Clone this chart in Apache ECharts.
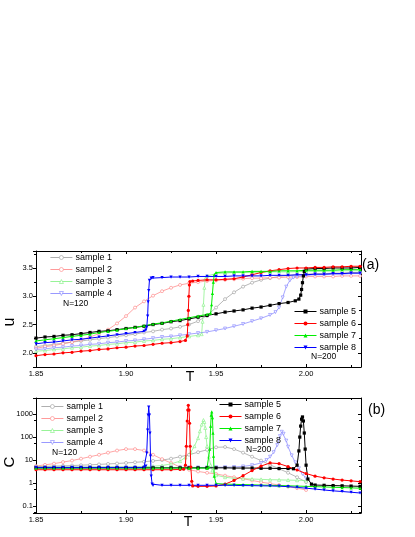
<!DOCTYPE html>
<html>
<head>
<meta charset="utf-8">
<title>u and C vs T</title>
<style>
    html, body { margin: 0; padding: 0; background: #fff; }
    #main { width: 415px; height: 537px; }
</style>
</head>
<body>
<div id="main"></div>
<script src="https://cdn.jsdelivr.net/npm/echarts@6/dist/echarts.min.js"></script>
<script>
    // series names (the typo "sampel 2" is in the original)
    var sampleNames = ['sample 1', 'sampel 2', 'sample 3', 'sample 4', 'sample 5', 'sample 6', 'sample 7', 'sample 8'];

    // panel (a): u vs T, pairs [T, u]
    var uS1 = [[1.85,2.11],[1.855,2.13],[1.86,2.15],[1.865,2.17],[1.87,2.19],[1.875,2.21],[1.88,2.23],[1.885,2.25],[1.89,2.27],[1.895,2.29],[1.90,2.31],[1.905,2.33],[1.91,2.36],[1.915,2.38],[1.92,2.41],[1.925,2.43],[1.93,2.46],[1.935,2.50],[1.94,2.56],[1.945,2.66],[1.95,2.80],[1.955,2.95],[1.96,3.07],[1.965,3.17],[1.97,3.24],[1.975,3.29],[1.98,3.32],[1.985,3.35],[1.99,3.37],[1.995,3.38],[2.00,3.39],[2.005,3.40],[2.01,3.40],[2.015,3.41],[2.02,3.41],[2.025,3.42],[2.03,3.42]];
    var uS2 = [[1.85,2.08],[1.855,2.11],[1.86,2.13],[1.865,2.16],[1.87,2.19],[1.875,2.23],[1.88,2.28],[1.885,2.34],[1.89,2.41],[1.895,2.52],[1.90,2.65],[1.905,2.80],[1.91,2.91],[1.915,3.01],[1.92,3.09],[1.925,3.15],[1.93,3.20],[1.935,3.23],[1.94,3.25],[1.945,3.27],[1.95,3.28],[1.955,3.29],[1.96,3.30],[1.965,3.31],[1.97,3.32],[1.975,3.32],[1.98,3.33],[1.985,3.33],[1.99,3.34],[1.995,3.34],[2.00,3.35],[2.005,3.35],[2.01,3.35],[2.015,3.35],[2.02,3.36],[2.025,3.36],[2.03,3.36]];
    var uS3 = [[1.85,2.03],[1.855,2.04],[1.86,2.06],[1.865,2.07],[1.87,2.09],[1.875,2.10],[1.88,2.12],[1.885,2.13],[1.89,2.15],[1.895,2.16],[1.90,2.18],[1.905,2.19],[1.91,2.21],[1.915,2.22],[1.92,2.24],[1.925,2.25],[1.93,2.27],[1.935,2.29],[1.94,2.31],[1.942,2.33],[1.9425,2.55],[1.943,2.85],[1.9435,3.15],[1.944,3.31],[1.945,3.36],[1.95,3.40],[1.955,3.41],[1.96,3.42],[1.97,3.42],[1.98,3.43],[1.99,3.43],[2.00,3.44],[2.01,3.44],[2.02,3.45],[2.03,3.45]];
    var uS4 = [[1.85,2.06],[1.855,2.07],[1.86,2.09],[1.865,2.10],[1.87,2.12],[1.875,2.13],[1.88,2.15],[1.885,2.16],[1.89,2.18],[1.895,2.19],[1.90,2.21],[1.905,2.22],[1.91,2.24],[1.915,2.26],[1.92,2.28],[1.925,2.29],[1.93,2.31],[1.935,2.33],[1.94,2.35],[1.945,2.37],[1.95,2.40],[1.955,2.43],[1.96,2.47],[1.965,2.51],[1.97,2.56],[1.975,2.61],[1.98,2.67],[1.983,2.72],[1.985,2.80],[1.987,2.98],[1.989,3.17],[1.991,3.28],[1.993,3.33],[1.995,3.35],[2.00,3.37],[2.005,3.38],[2.01,3.38],[2.015,3.39],[2.02,3.39],[2.025,3.40],[2.03,3.40]];
    var uS5 = [[1.85,2.26],[1.855,2.28],[1.86,2.29],[1.865,2.31],[1.87,2.32],[1.875,2.34],[1.88,2.36],[1.885,2.38],[1.89,2.39],[1.895,2.41],[1.90,2.43],[1.905,2.45],[1.91,2.47],[1.915,2.50],[1.92,2.52],[1.925,2.55],[1.93,2.57],[1.935,2.60],[1.94,2.63],[1.945,2.66],[1.95,2.69],[1.955,2.72],[1.96,2.74],[1.965,2.76],[1.97,2.79],[1.975,2.81],[1.98,2.84],[1.985,2.87],[1.99,2.89],[1.994,2.92],[1.996,2.95],[1.997,3.02],[1.9975,3.12],[1.998,3.24],[1.9985,3.36],[1.999,3.44],[2.00,3.48],[2.005,3.49],[2.01,3.49],[2.015,3.50],[2.02,3.50],[2.025,3.50],[2.03,3.51]];
    var uS6 = [[1.85,1.95],[1.855,1.97],[1.86,1.98],[1.865,2.00],[1.87,2.01],[1.875,2.03],[1.88,2.04],[1.885,2.06],[1.89,2.07],[1.895,2.09],[1.90,2.10],[1.905,2.12],[1.91,2.13],[1.915,2.15],[1.92,2.17],[1.925,2.18],[1.93,2.20],[1.933,2.22],[1.934,2.30],[1.9343,2.5],[1.9346,2.75],[1.9349,3.0],[1.9352,3.2],[1.9355,3.26],[1.937,3.27],[1.94,3.28],[1.945,3.29],[1.95,3.29],[1.955,3.30],[1.96,3.31],[1.965,3.34],[1.97,3.38],[1.975,3.42],[1.98,3.45],[1.985,3.47],[1.99,3.49],[1.995,3.50],[2.00,3.50],[2.005,3.51],[2.01,3.51],[2.015,3.52],[2.02,3.52],[2.025,3.53],[2.03,3.53]];
    var uS7 = [[1.85,2.21],[1.855,2.23],[1.86,2.25],[1.865,2.27],[1.87,2.29],[1.875,2.31],[1.88,2.33],[1.885,2.36],[1.89,2.38],[1.895,2.40],[1.90,2.43],[1.905,2.45],[1.91,2.48],[1.915,2.51],[1.92,2.53],[1.925,2.56],[1.93,2.59],[1.935,2.62],[1.94,2.65],[1.945,2.68],[1.947,2.70],[1.9475,2.85],[1.948,3.05],[1.9485,3.25],[1.949,3.38],[1.95,3.42],[1.955,3.43],[1.96,3.43],[1.965,3.43],[1.97,3.44],[1.975,3.44],[1.98,3.44],[1.985,3.45],[1.99,3.45],[1.995,3.45],[2.00,3.46],[2.005,3.46],[2.01,3.46],[2.015,3.46],[2.02,3.47],[2.025,3.47],[2.03,3.47]];
    var uS8 = [[1.85,2.16],[1.855,2.18],[1.86,2.19],[1.865,2.21],[1.87,2.23],[1.875,2.24],[1.88,2.26],[1.885,2.28],[1.89,2.30],[1.895,2.32],[1.90,2.34],[1.905,2.36],[1.91,2.38],[1.911,2.40],[1.9115,2.45],[1.912,2.65],[1.9123,2.9],[1.9126,3.1],[1.913,3.28],[1.914,3.32],[1.915,3.33],[1.92,3.33],[1.925,3.34],[1.93,3.34],[1.935,3.34],[1.94,3.35],[1.945,3.35],[1.95,3.35],[1.955,3.35],[1.96,3.36],[1.965,3.36],[1.97,3.36],[1.975,3.36],[1.98,3.37],[1.985,3.37],[1.99,3.37],[1.995,3.38],[2.00,3.38],[2.005,3.39],[2.01,3.39],[2.015,3.40],[2.02,3.40],[2.025,3.41],[2.03,3.41]];

    // panel (b): C vs T, pairs [T, C]
    var cS1 = [[1.85,5.2],[1.855,5.3],[1.86,5.5],[1.865,5.6],[1.87,5.8],[1.875,6.0],[1.88,6.2],[1.885,6.5],[1.89,6.8],[1.895,7.1],[1.90,7.5],[1.905,8.0],[1.91,8.5],[1.915,9.2],[1.92,10],[1.925,11.5],[1.93,14],[1.935,17],[1.94,22],[1.945,28],[1.95,36],[1.955,37],[1.96,30],[1.965,21],[1.97,14],[1.975,9.5],[1.98,6.2],[1.985,4.2],[1.99,2.8],[1.995,1.8],[2.00,1.1]];
    var cS2 = [[1.85,5.5],[1.855,6.2],[1.86,7.0],[1.865,8.2],[1.87,9.5],[1.875,11.5],[1.88,14],[1.885,17],[1.89,21],[1.895,26],[1.90,30],[1.905,30],[1.91,26],[1.915,17],[1.92,11],[1.925,7.5],[1.93,5],[1.935,3.8],[1.94,3.2],[1.945,2.8],[1.95,2.5],[1.955,2.1],[1.96,1.8],[1.965,1.55],[1.97,1.3],[1.975,1.1],[1.98,0.95],[1.985,0.82],[1.99,0.7],[1.995,0.6],[2.00,0.5]];
    var cS3 = [[1.85,5.0],[1.855,5.0],[1.86,5.0],[1.865,5.0],[1.87,5.0],[1.875,5.0],[1.88,5.0],[1.885,5.0],[1.89,5.1],[1.895,5.1],[1.90,5.1],[1.905,5.1],[1.91,5.2],[1.915,5.4],[1.92,5.8],[1.925,6.8],[1.93,9],[1.933,13],[1.936,22],[1.938,40],[1.94,90],[1.941,180],[1.942,350],[1.943,550],[1.9435,450],[1.944,250],[1.9445,100],[1.945,40],[1.946,14],[1.947,6],[1.948,3.5],[1.95,2.2],[1.955,1.8],[1.96,1.6],[1.965,1.55],[1.97,1.5],[1.975,1.45],[1.98,1.4],[1.985,1.38],[1.99,1.35],[1.995,1.32],[2.00,1.3]];
    var cS4 = [[1.85,4.2],[1.855,4.2],[1.86,4.3],[1.865,4.3],[1.87,4.4],[1.875,4.4],[1.88,4.5],[1.885,4.5],[1.89,4.6],[1.895,4.6],[1.90,4.6],[1.905,4.6],[1.91,4.7],[1.915,4.7],[1.92,4.7],[1.925,4.7],[1.93,4.8],[1.935,4.8],[1.94,4.8],[1.945,4.8],[1.95,4.9],[1.955,4.9],[1.96,5.0],[1.965,5.3],[1.97,6.0],[1.975,7.5],[1.978,10],[1.98,14],[1.982,22],[1.984,45],[1.9855,110],[1.9865,170],[1.9875,140],[1.989,70],[1.99,38],[1.992,16],[1.994,8],[1.996,4.4],[1.998,2.5],[2.00,1.6]];
    var cS5 = [[1.85,4.6],[1.855,4.6],[1.86,4.6],[1.865,4.6],[1.87,4.6],[1.875,4.6],[1.88,4.6],[1.885,4.6],[1.89,4.6],[1.895,4.6],[1.90,4.6],[1.905,4.6],[1.91,4.6],[1.915,4.6],[1.92,4.6],[1.925,4.6],[1.93,4.6],[1.935,4.6],[1.94,4.6],[1.945,4.6],[1.95,4.6],[1.955,4.6],[1.96,4.5],[1.965,4.5],[1.97,4.5],[1.975,4.4],[1.98,4.4],[1.985,4.3],[1.99,4.3],[1.993,4.2],[1.995,6],[1.996,25],[1.9965,100],[1.997,300],[1.9975,600],[1.998,750],[1.9985,500],[1.999,150],[1.9995,30],[2.00,6],[2.001,1.5],[2.003,0.9],[2.005,0.82],[2.01,0.8],[2.015,0.78],[2.02,0.76],[2.025,0.74],[2.03,0.72]];
    var cS6 = [[1.85,3.8],[1.855,3.8],[1.86,3.8],[1.865,3.8],[1.87,3.8],[1.875,3.8],[1.88,3.8],[1.885,3.8],[1.89,3.8],[1.895,3.8],[1.90,3.8],[1.905,3.8],[1.91,3.8],[1.915,3.8],[1.92,3.8],[1.925,3.8],[1.93,3.9],[1.932,4.0],[1.933,6],[1.9335,40],[1.934,500],[1.9343,1500],[1.9346,2400],[1.935,1500],[1.9353,400],[1.9356,40],[1.936,5],[1.9365,1.2],[1.937,0.75],[1.94,0.72],[1.945,0.72],[1.95,0.75],[1.955,0.9],[1.96,1.3],[1.965,2.1],[1.97,3.5],[1.975,5.5],[1.98,7.5],[1.985,7.0],[1.99,5.2],[1.995,3.7],[2.00,2.6],[2.005,2.0],[2.01,1.7],[2.015,1.5],[2.02,1.35],[2.025,1.25],[2.03,1.15]];
    var cS7 = [[1.85,4.5],[1.855,4.5],[1.86,4.5],[1.865,4.5],[1.87,4.5],[1.875,4.5],[1.88,4.5],[1.885,4.5],[1.89,4.5],[1.895,4.5],[1.90,4.5],[1.905,4.5],[1.91,4.5],[1.915,4.5],[1.92,4.5],[1.925,4.5],[1.93,4.5],[1.935,4.5],[1.94,4.5],[1.945,4.5],[1.946,5],[1.9465,30],[1.947,300],[1.9473,900],[1.9476,1250],[1.948,700],[1.9483,150],[1.9486,15],[1.949,2],[1.95,0.95],[1.955,0.9],[1.96,0.88],[1.965,0.86],[1.97,0.84],[1.975,0.82],[1.98,0.8],[1.985,0.78],[1.99,0.76],[1.995,0.74],[2.00,0.72],[2.005,0.7],[2.01,0.68],[2.015,0.66],[2.02,0.64],[2.025,0.62],[2.03,0.6]];
    var cS8 = [[1.85,4.8],[1.855,4.8],[1.86,4.8],[1.865,4.8],[1.87,4.8],[1.875,4.8],[1.88,4.8],[1.885,4.8],[1.89,4.8],[1.895,4.8],[1.90,4.8],[1.905,4.8],[1.91,4.8],[1.911,5.5],[1.9115,20],[1.912,200],[1.9123,900],[1.9126,2000],[1.913,900],[1.9133,150],[1.9136,15],[1.914,2],[1.9145,0.9],[1.915,0.8],[1.92,0.8],[1.925,0.8],[1.93,0.8],[1.935,0.8],[1.94,0.8],[1.945,0.8],[1.95,0.8],[1.955,0.8],[1.96,0.79],[1.965,0.78],[1.97,0.77],[1.975,0.76],[1.98,0.75],[1.985,0.73],[1.99,0.7],[1.995,0.65],[2.00,0.6],[2.005,0.55],[2.01,0.5],[2.015,0.46],[2.02,0.43],[2.025,0.4],[2.03,0.37]];

    var uData = [uS1, uS2, uS3, uS4, uS5, uS6, uS7, uS8];
    var cData = [cS1, cS2, cS3, cS4, cS5, cS6, cS7, cS8];

    // look of each sample (N=120 light/open, N=200 dark/filled)
    var colors = ['#9a9a9a', '#ff8080', '#7ef07e', '#7f7fff', '#000000', '#ff0000', '#00ee00', '#0000ff'];
    var symbols = ['circle', 'circle', 'triangle', 'triangle', 'rect', 'circle', 'triangle', 'triangle'];
    var rotates = [0, 0, 0, 180, 0, 0, 0, 180];

    var font = 'Liberation Sans, Arial, sans-serif';
    var chart = echarts.init(document.getElementById('main'));

    function makeSeries(i, data, xi, yi) {
        var dark = i >= 4;
        return {
            name: sampleNames[i],
            type: 'line',
            xAxisIndex: xi,
            yAxisIndex: yi,
            data: data,
            symbol: symbols[i],
            symbolRotate: rotates[i],
            symbolSize: dark ? 3.2 : 3,
            showAllSymbol: true,
            z: dark ? 3 : 2,
            lineStyle: { color: colors[i], width: dark ? 1 : 0.7 },
            itemStyle: dark
                ? { color: colors[i], borderWidth: 0 }
                : { color: '#fff', borderColor: colors[i], borderWidth: 0.6 }
        };
    }

    var series = [];
    for (var i = 0; i < 8; i++) series.push(makeSeries(i, uData[i], 0, 0));
    for (var j = 0; j < 8; j++) series.push(makeSeries(j, cData[j], 2, 2));

    var lineStyleAxis = { color: '#000', width: 1 };
    var labelStyle = { fontSize: 7.5, color: '#000', fontFamily: font };

    function xAxisPair(grid) {
        return [{
            type: 'value', gridIndex: grid, position: 'bottom', min: 1.85, max: 2.0305, interval: 0.05,
            axisLine: { lineStyle: lineStyleAxis },
            axisTick: { inside: true, length: 3, lineStyle: lineStyleAxis },
            minorTick: { show: true, splitNumber: 2, length: 2, lineStyle: { color: '#000' } },
            axisLabel: Object.assign({ margin: 3, showMaxLabel: false, formatter: function (v) { return v.toFixed(2); } }, labelStyle),
            splitLine: { show: false }
        }, {
            type: 'value', gridIndex: grid, position: 'top', min: 1.85, max: 2.0305, interval: 0.05,
            axisLine: { lineStyle: lineStyleAxis },
            axisTick: { inside: true, length: 3, lineStyle: lineStyleAxis },
            minorTick: { show: true, splitNumber: 2, length: 2, lineStyle: { color: '#000' } },
            axisLabel: { show: false },
            splitLine: { show: false }
        }];
    }

    function legendBlock(names, left, top, dark) {
        return {
            data: names, left: left, top: top, orient: 'vertical', padding: 0,
            itemWidth: 22, itemHeight: 5, itemGap: 3, selectedMode: false,
            itemStyle: { borderWidth: dark ? 0 : 0.6 },
            lineStyle: { width: dark ? 1 : 0.8 },
            textStyle: { fontSize: 9, color: '#000', padding: [0, 0, 0, -2] }
        };
    }

    var option = {
        animation: false,
        textStyle: { fontFamily: font },
        grid: [
            { left: 36, right: 54, top: 251, height: 116 },
            { left: 36, right: 54, top: 398, height: 115 }
        ],
        xAxis: xAxisPair(0).concat(xAxisPair(1)),
        yAxis: [{
            type: 'value', gridIndex: 0, position: 'left', min: 1.75, max: 3.8,
            axisLine: { show: true, lineStyle: lineStyleAxis },
            axisTick: { show: true, length: 3, lineStyle: lineStyleAxis },
            minorTick: { show: true, splitNumber: 2, length: 2, lineStyle: { color: '#000' } },
            axisLabel: Object.assign({ margin: 3, showMinLabel: false, showMaxLabel: false, formatter: function (v) { return v.toFixed(1); } }, labelStyle),
            splitLine: { show: false }
        }, {
            type: 'value', gridIndex: 0, position: 'right', min: 1.75, max: 3.8,
            axisLine: { show: true, lineStyle: lineStyleAxis },
            axisTick: { show: true, inside: true, length: 3, lineStyle: lineStyleAxis },
            minorTick: { show: true, splitNumber: 2, length: 2, lineStyle: { color: '#000' } },
            axisLabel: { show: false },
            splitLine: { show: false }
        }, {
            type: 'log', logBase: 10, gridIndex: 1, position: 'left', min: 0.05, max: 5000,
            axisLine: { show: true, lineStyle: lineStyleAxis },
            axisTick: { show: true, length: 3, lineStyle: lineStyleAxis },
            minorTick: { show: true, splitNumber: 2, length: 2, lineStyle: { color: '#000' } },
            axisLabel: Object.assign({ margin: 3, showMinLabel: false, showMaxLabel: false, formatter: function (v) { return v < 1 ? v.toFixed(1) : String(Math.round(v)); } }, labelStyle),
            splitLine: { show: false }
        }, {
            type: 'log', logBase: 10, gridIndex: 1, position: 'right', min: 0.05, max: 5000,
            axisLine: { show: true, lineStyle: lineStyleAxis },
            axisTick: { show: true, inside: true, length: 3, lineStyle: lineStyleAxis },
            minorTick: { show: true, splitNumber: 2, length: 2, lineStyle: { color: '#000' } },
            axisLabel: { show: false },
            splitLine: { show: false }
        }],
        legend: [
            legendBlock(sampleNames.slice(0, 4), 50, 253, false),
            legendBlock(sampleNames.slice(4), 294, 307, true),
            legendBlock(sampleNames.slice(0, 4), 41, 402, false),
            legendBlock(sampleNames.slice(4), 219, 400, true)
        ],
        graphic: [
            { type: 'text', x: 63, y: 304, style: { text: 'N=120', fontSize: 8.5, fontFamily: font, fill: '#000', verticalAlign: 'middle' } },
            { type: 'text', x: 311, y: 357, style: { text: 'N=200', fontSize: 8.5, fontFamily: font, fill: '#000', verticalAlign: 'middle' } },
            { type: 'text', x: 52, y: 453, style: { text: 'N=120', fontSize: 8.5, fontFamily: font, fill: '#000', verticalAlign: 'middle' } },
            { type: 'text', x: 246, y: 450, style: { text: 'N=200', fontSize: 8.5, fontFamily: font, fill: '#000', verticalAlign: 'middle' } },
            { type: 'text', x: 362, y: 265, style: { text: '(a)', fontSize: 14, fontFamily: font, fill: '#000', verticalAlign: 'middle' } },
            { type: 'text', x: 368, y: 410, style: { text: '(b)', fontSize: 14, fontFamily: font, fill: '#000', verticalAlign: 'middle' } },
            { type: 'text', x: 10, y: 322, rotation: Math.PI / 2, style: { text: 'u', fontSize: 16, fontFamily: font, fill: '#000', align: 'center', verticalAlign: 'middle' } },
            { type: 'text', x: 10, y: 462, rotation: Math.PI / 2, style: { text: 'C', fontSize: 15, fontFamily: font, fill: '#000', align: 'center', verticalAlign: 'middle' } },
            { type: 'text', x: 190, y: 377, style: { text: 'T', fontSize: 14, fontFamily: font, fill: '#000', align: 'center', verticalAlign: 'middle' } },
            { type: 'text', x: 188, y: 522, style: { text: 'T', fontSize: 14, fontFamily: font, fill: '#000', align: 'center', verticalAlign: 'middle' } }
        ],
        series: series
    };

    chart.setOption(option);
</script>
</body>
</html>
